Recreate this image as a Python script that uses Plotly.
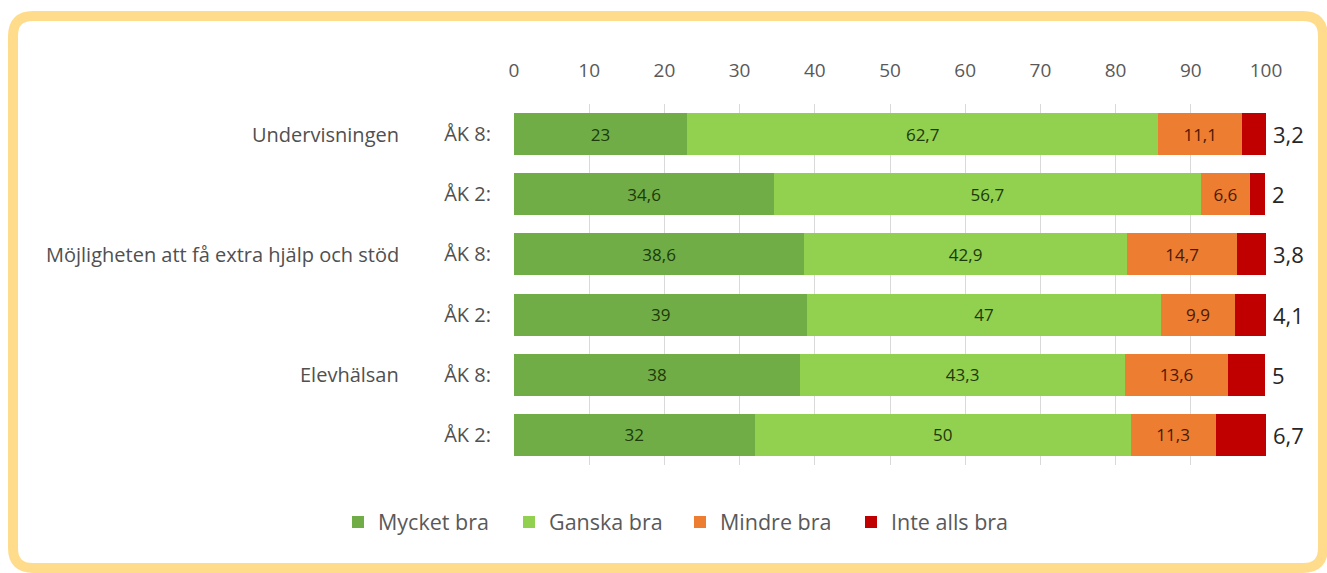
import plotly.graph_objects as go

rows = ["ÅK 8:", "ÅK 2:", "ÅK 8:", "ÅK 2:", "ÅK 8:", "ÅK 2:"]
groups = ["Undervisningen", "Möjligheten att få extra hjälp och stöd", "Elevhälsan"]
series_names = ["Mycket bra", "Ganska bra", "Mindre bra", "Inte alls bra"]
mycket_bra = [23, 34.6, 38.6, 39, 38, 32]
ganska_bra = [62.7, 56.7, 42.9, 47, 43.3, 50]
mindre_bra = [11.1, 6.6, 14.7, 9.9, 13.6, 11.3]
inte_alls_bra = [3.2, 2, 3.8, 4.1, 5, 6.7]
colors = ["#70AD47", "#92D050", "#ED7D31", "#C00000"]
text_colors = ["#1C3A0A", "#1C3A0A", "#4A1A05", "#4A1A05"]
x_ticks = [0, 10, 20, 30, 40, 50, 60, 70, 80, 90, 100]

FONT = "'Open Sans', sans-serif"

def fmt(v):
    return ("%g" % v).replace(".", ",")

W, H = 1327, 573
L, R, T, B = 514, 61, 104, 108
pw, ph = W - L - R, H - T - B

ypos = list(range(len(rows)))
fig = go.Figure()
all_series = [mycket_bra, ganska_bra, mindre_bra, inte_alls_bra]
for i, (name, vals) in enumerate(zip(series_names, all_series)):
    show_text = i < 3
    fig.add_trace(go.Bar(
        name=name, y=ypos, x=vals, orientation="h",
        marker=dict(color=colors[i], line=dict(width=0)),
        text=[fmt(v) for v in vals] if show_text else None,
        textposition="inside" if show_text else "none",
        insidetextanchor="middle",
        textfont=dict(family=FONT, size=17, color=text_colors[i]),
        hoverinfo="x+name",
    ))

annotations = []
for k in range(len(rows)):
    total = mycket_bra[k] + ganska_bra[k] + mindre_bra[k] + inte_alls_bra[k]
    annotations.append(dict(
        x=total, y=ypos[k], xref="x", yref="y", text=fmt(inte_alls_bra[k]),
        showarrow=False, xanchor="left", xshift=5,
        font=dict(family=FONT, size=22, color="#262626"),
    ))
for g, name in enumerate(groups):
    annotations.append(dict(
        x=(401 - L) / pw, y=ypos[2 * g], xref="paper", yref="y", text=name,
        showarrow=False, xanchor="right",
        font=dict(family=FONT, size=20, color="#505050"),
    ))

def px2x(px):
    return (px - L) / pw

def py2y(py):
    return (H - B - py) / ph

x0, x1, y0, y1, r = 13, 1323, 16, 568, 20
path = (
    f"M {px2x(x0 + r)} {py2y(y0)} L {px2x(x1 - r)} {py2y(y0)} "
    f"Q {px2x(x1)} {py2y(y0)} {px2x(x1)} {py2y(y0 + r)} "
    f"L {px2x(x1)} {py2y(y1 - r)} "
    f"Q {px2x(x1)} {py2y(y1)} {px2x(x1 - r)} {py2y(y1)} "
    f"L {px2x(x0 + r)} {py2y(y1)} "
    f"Q {px2x(x0)} {py2y(y1)} {px2x(x0)} {py2y(y1 - r)} "
    f"L {px2x(x0)} {py2y(y0 + r)} "
    f"Q {px2x(x0)} {py2y(y0)} {px2x(x0 + r)} {py2y(y0)} Z"
)

fig.update_layout(
    width=W, height=H,
    barmode="stack", bargap=0.3,
    margin=dict(l=L, r=R, t=T, b=B, autoexpand=False),
    paper_bgcolor="white", plot_bgcolor="white",
    font=dict(family=FONT, color="#595959"),
    xaxis=dict(
        side="top", range=[0, 100], tickvals=x_ticks,
        ticktext=[str(t) for t in x_ticks],
        showgrid=True, gridcolor="#D9D9D9", gridwidth=1,
        zeroline=False, showline=False, ticks="",
        ticklabelstandoff=22,
        tickfont=dict(family=FONT, size=19, color="#595959"),
    ),
    yaxis=dict(
        range=[len(rows) - 0.5, -0.5], tickvals=ypos, ticktext=rows,
        showgrid=False, zeroline=False, showline=False, ticks="",
        ticklabelstandoff=22,
        tickfont=dict(family=FONT, size=20, color="#505050"),
    ),
    legend=dict(
        orientation="h", x=(338 - L) / pw, xanchor="left",
        y=-(522 - (H - B)) / ph, yanchor="middle",
        font=dict(family=FONT, size=21.5, color="#595959"),
        itemwidth=30, traceorder="normal",
        entrywidth=126, entrywidthmode="pixels",
    ),
    annotations=annotations,
    shapes=[dict(type="path", path=path, xref="paper", yref="paper",
                 line=dict(color="#FFDC8C", width=10), layer="below")],
)

fig.write_html("out.html", config={"displayModeBar": False},
               post_script="document.body.style.margin='0';document.body.style.overflow='hidden';")
